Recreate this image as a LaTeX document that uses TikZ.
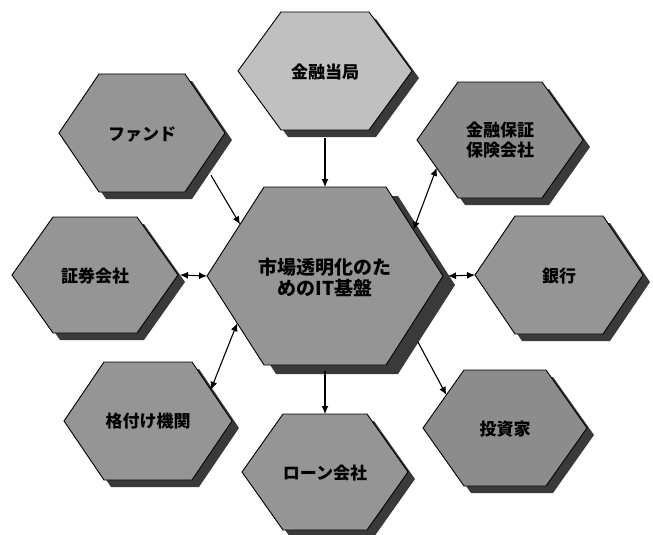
\documentclass[tikz,border=0pt]{standalone}
\usepackage{fontspec}
\newfontfamily\cjk{Noto Sans CJK JP}
\usetikzlibrary{arrows.meta,calc}
\definecolor{hexlight}{HTML}{C0C0C0}
\definecolor{hexmid}{HTML}{959595}
\definecolor{hexdark}{HTML}{8C8C8C}
\definecolor{shadowc}{HTML}{3A3A3A}
\tikzset{
  hexline/.style={draw=black, line width=0.9pt, line join=miter},
  lbl/.style={font=\cjk\bfseries\fontsize{17}{20}\selectfont, text=black, inner sep=0pt, align=center},
  corelbl/.style={font=\cjk\bfseries\fontsize{19}{21}\selectfont, text=black, inner sep=0pt, align=center},
  arr/.style={line width=1.1pt, -{Latex[length=8pt,width=7pt]}},
  darr/.style={line width=1.1pt, {Latex[length=8pt,width=7pt]}-{Latex[length=8pt,width=7pt]}},
}
% #1 name, #2 cx, #3 cy, #4 half width, #5 half height, #6 half top width, #7 fill, #8 shadow dx, #9 shadow dy
\newcommand{\hexshape}[9]{%
  \coordinate (#1-l) at ({#2-#4},#3);
  \coordinate (#1-r) at ({#2+#4},#3);
  \coordinate (#1-tl) at ({#2-#6},{#3-#5});
  \coordinate (#1-tr) at ({#2+#6},{#3-#5});
  \coordinate (#1-bl) at ({#2-#6},{#3+#5});
  \coordinate (#1-br) at ({#2+#6},{#3+#5});
  \coordinate (#1-t) at (#2,{#3-#5});
  \coordinate (#1-b) at (#2,{#3+#5});
  \fill[shadowc] ({#2-#4+#8},{#3+#9}) -- ({#2-#6+#8},{#3-#5+#9}) -- ({#2+#6+#8},{#3-#5+#9})
     -- ({#2+#4+#8},{#3+#9}) -- ({#2+#6+#8},{#3+#5+#9}) -- ({#2-#6+#8},{#3+#5+#9}) -- cycle;
  \filldraw[hexline, fill=#7] (#1-l) -- (#1-tl) -- (#1-tr) -- (#1-r) -- (#1-br) -- (#1-bl) -- cycle;
}
\begin{document}
\begin{tikzpicture}[x=1pt,y=-1pt]
\useasboundingbox (0,0) rectangle (653,535);
% hexagons
\hexshape{auth}{325}{71}{87}{59}{44}{hexlight}{7}{7}
\hexshape{fund}{142}{133}{83}{59}{43}{hexmid}{7}{7}
\hexshape{guar}{500}{140}{83}{58}{42}{hexdark}{7}{7}
\hexshape{sec}{95}{275}{83}{58}{42}{hexmid}{7}{7}
\hexshape{core}{325}{276}{118}{89}{61}{hexmid}{12}{9}
\hexshape{bank}{559}{275}{84}{59}{44}{hexmid}{7}{7}
\hexshape{rate}{148}{421}{84}{59}{44}{hexmid}{7}{7}
\hexshape{loan}{325}{472}{83}{58}{42}{hexmid}{7}{7}
\hexshape{inv}{505}{428}{82}{58}{41}{hexdark}{7}{7}
% labels
\node[lbl] (authT) at (auth-t |- 0,72) {金融当局};
\node[lbl] (fundT) at (fund-t |- 0,134) {ファンド};
\node[lbl] (guarT) at (guar-t |- 0,140) {金融保証\\保険会社};
\node[lbl] (secT) at (sec-t |- 0,276) {証券会社};
\node[corelbl] (coreT) at (core-t |- 0,277) {市場透明化のた\\めのIT基盤};
\node[lbl] (bankT) at (bank-t |- 0,276) {銀行};
\node[lbl] (rateT) at (rate-t |- 0,421) {格付け機関};
\node[lbl] (loanT) at (loan-t |- 0,473) {ローン会社};
\node[lbl] (invT) at (inv-t |- 0,429) {投資家};
% connector end points
\coordinate (authOut) at ($(auth-b)+(0,8)$);
\coordinate (fundOut) at ($(fund-r)!0.7!(fund-br)+(14,1)$);
\coordinate (coreFund) at ($(core-tl)!0.42!(core-l)$);
\coordinate (guarIn) at ($(guar-l)!0.48!(guar-bl)$);
\coordinate (coreGuar) at ($(core-tr)!0.48!(core-r)$);
\coordinate (secOut) at ($(sec-r)+(2,0)$);
\coordinate (coreBank) at ($(core-r)+(5,0)$);
\coordinate (rateIn) at ($(rate-tr)!0.47!(rate-r)$);
\coordinate (coreRate) at ($(core-l)!0.53!(core-bl)$);
\coordinate (coreLoan) at ($(core-b)+(0,6)$);
\coordinate (coreInv) at ($(core-r)!0.72!(core-br)+(16,2)$);
\coordinate (invIn) at ($(inv-l)!0.57!(inv-tl)$);
% connectors
\draw[arr] (authOut) -- (core-t);
\draw[arr] (fundOut) -- (coreFund);
\draw[darr] (coreGuar) -- (guarIn);
\draw[darr] (secOut) -- (core-l);
\draw[darr] (coreBank) -- (bank-l);
\draw[darr] (coreRate) -- (rateIn);
\draw[arr] (coreLoan) -- (loan-t);
\draw[arr] (coreInv) -- (invIn);
\end{tikzpicture}
\end{document}
